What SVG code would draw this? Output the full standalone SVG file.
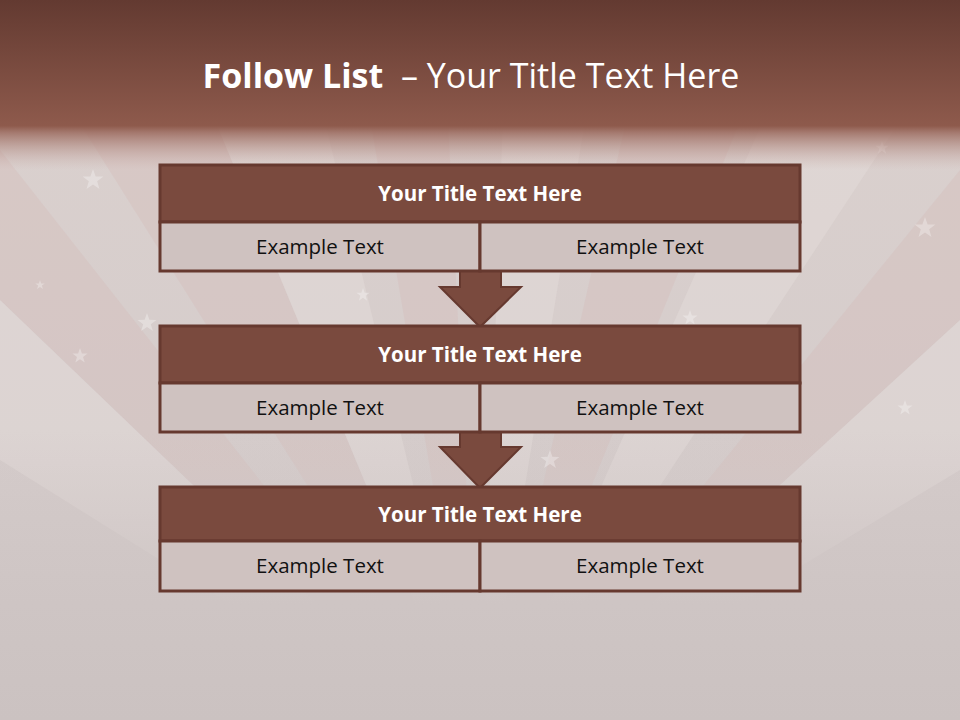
<svg xmlns="http://www.w3.org/2000/svg" width="960" height="720" viewBox="0 0 960 720">
  <defs>
    <linearGradient id="bg" x1="0" y1="0" x2="0" y2="1">
      <stop offset="0" stop-color="#dcd2cf"/>
      <stop offset="0.6" stop-color="#d5cccb"/>
      <stop offset="1" stop-color="#cbc2c1"/>
    </linearGradient>
    <linearGradient id="top" x1="0" y1="0" x2="0" y2="170" gradientUnits="userSpaceOnUse">
      <stop offset="0" stop-color="#633a31" stop-opacity="1"/>
      <stop offset="0.74" stop-color="#8e5a4c" stop-opacity="1"/>
      <stop offset="0.78" stop-color="#9b6a5e" stop-opacity="0.85"/>
      <stop offset="1" stop-color="#c9aaa5" stop-opacity="0"/>
    </linearGradient>
    <linearGradient id="fade" x1="0" y1="0" x2="0" y2="1">
      <stop offset="0" stop-color="#d2c9c8" stop-opacity="0"/>
      <stop offset="0.6" stop-color="#cec5c4" stop-opacity="1"/>
      <stop offset="1" stop-color="#cbc2c1" stop-opacity="1"/>
    </linearGradient>
    <polygon id="star" points="0,-10 2.4,-3.2 9.5,-3.1 3.8,1.2 5.9,8.1 0,4 -5.9,8.1 -3.8,1.2 -9.5,-3.1 -2.4,-3.2" />
    <style>
      .band { fill: #7a4a3e; stroke: #66392f; stroke-width: 3; }
      .cell { fill: #cfc2c0; stroke: #66392f; stroke-width: 3; }
      .arrow { fill: #7a4a3e; stroke: #66392f; stroke-width: 2; stroke-linejoin: miter; }
      .ttl { font-family: "Open Sans", "Liberation Sans", sans-serif; font-weight: bold; font-size: 20.5px; fill: #ffffff; text-anchor: middle; }
      .txt { font-family: "Open Sans", "Liberation Sans", sans-serif; font-size: 20.5px; fill: #111111; text-anchor: middle; }
      .ray { fill: #e4dcda; opacity: 0.5; }
      .rayd { fill: #d4b9b6; opacity: 0.35; }
      .st { fill: #ffffff; opacity: 0.3; }
    </style>
  </defs>

  <!-- background -->
  <rect x="0" y="0" width="960" height="720" fill="url(#bg)"/>
  <g id="rays">
    <polygon class="rayd" points="480,760 0,150 0,300"/>
    <polygon class="ray" points="480,760 0,300 0,460"/>
    <polygon class="rayd" points="480,760 40,60 190,60"/>
    <polygon class="ray" points="480,760 190,60 310,60"/>
    <polygon class="rayd" points="480,760 360,60 445,60"/>
    <polygon class="ray" points="480,760 505,60 595,60"/>
    <polygon class="rayd" points="480,760 640,60 765,60"/>
    <polygon class="ray" points="480,760 790,60 940,60"/>
    <polygon class="rayd" points="480,760 960,170 960,320"/>
    <polygon class="ray" points="480,760 960,320 960,470"/>
    <rect x="0" y="430" width="960" height="290" fill="url(#fade)"/>
  </g>
  <g id="stars">
    <use href="#star" class="st" transform="translate(93,180) scale(1.1)"/>
    <use href="#star" class="st" transform="translate(925,228) scale(1.1)"/>
    <use href="#star" class="st" transform="translate(147,323) scale(1)"/>
    <use href="#star" class="st" transform="translate(80,356) scale(0.8)"/>
    <use href="#star" class="st" transform="translate(40,285) scale(0.5)"/>
    <use href="#star" class="st" transform="translate(363,295) scale(0.7)"/>
    <use href="#star" class="st" transform="translate(550,460) scale(1)"/>
    <use href="#star" class="st" transform="translate(905,408) scale(0.8)"/>
    <use href="#star" class="st" transform="translate(690,318) scale(0.8)"/>
    <use href="#star" class="st" transform="translate(882,148) scale(0.7)"/>
  </g>
  <rect id="topband" x="0" y="0" width="960" height="170" fill="url(#top)"/>

  <!-- title -->
  <text x="471" y="88" text-anchor="middle" font-family="Open Sans, Liberation Sans, sans-serif" font-size="34" fill="#ffffff"><tspan font-weight="bold">Follow List</tspan>&#160; – Your Title Text Here</text>

  <!-- connectors -->
  <g id="connectors">
    <polygon class="arrow" points="460,271 501,271 501,287 521,287 480,327 440,287 460,287"/>
    <polygon class="arrow" points="460,432 501,432 501,447 521,447 480,488 440,447 460,447"/>
  </g>

  <!-- node 1 -->
  <g id="node1">
    <rect class="band" x="160" y="165" width="640" height="57"/>
    <rect class="cell" x="160" y="222" width="320" height="49"/>
    <rect class="cell" x="480" y="222" width="320" height="49"/>
    <text class="ttl" x="480" y="201">Your Title Text Here</text>
    <text class="txt" x="320" y="254">Example Text</text>
    <text class="txt" x="640" y="254">Example Text</text>
  </g>

  <!-- node 2 -->
  <g id="node2">
    <rect class="band" x="160" y="326" width="640" height="57"/>
    <rect class="cell" x="160" y="383" width="320" height="49"/>
    <rect class="cell" x="480" y="383" width="320" height="49"/>
    <text class="ttl" x="480" y="362">Your Title Text Here</text>
    <text class="txt" x="320" y="415">Example Text</text>
    <text class="txt" x="640" y="415">Example Text</text>
  </g>

  <!-- node 3 -->
  <g id="node3">
    <rect class="band" x="160" y="487" width="640" height="54"/>
    <rect class="cell" x="160" y="541" width="320" height="50"/>
    <rect class="cell" x="480" y="541" width="320" height="50"/>
    <text class="ttl" x="480" y="522">Your Title Text Here</text>
    <text class="txt" x="320" y="573">Example Text</text>
    <text class="txt" x="640" y="573">Example Text</text>
  </g>
</svg>
